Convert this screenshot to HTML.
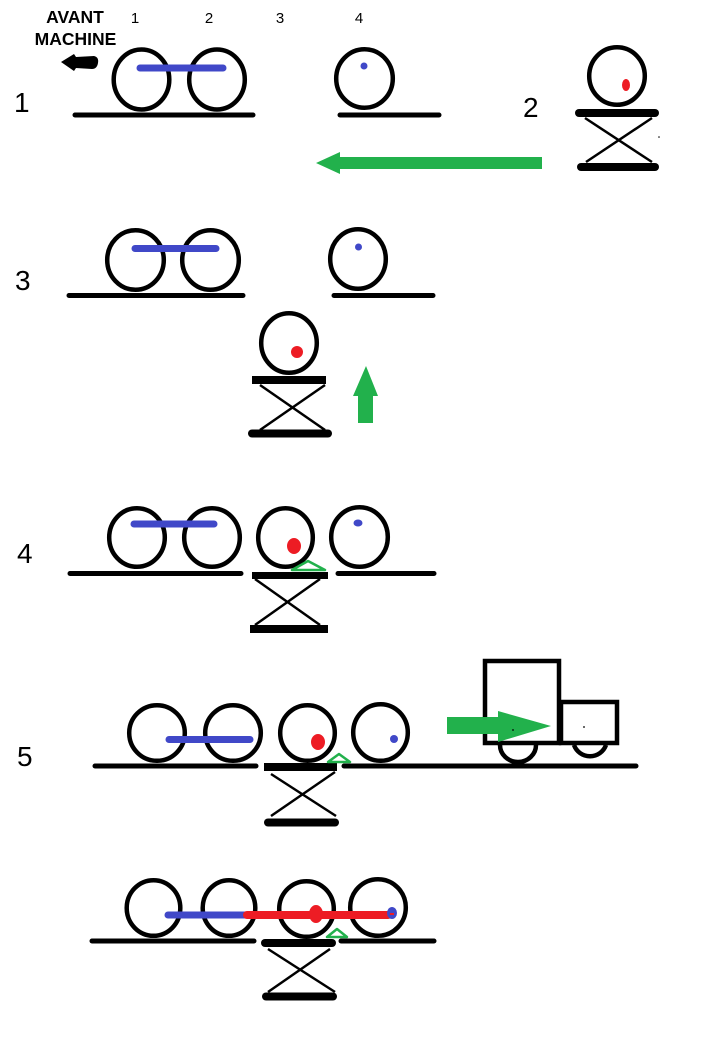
<!DOCTYPE html>
<html><head><meta charset="utf-8"><style>
html,body{margin:0;padding:0;background:#fff;}
svg{display:block;}
text{font-family:"Liberation Sans",sans-serif;fill:#000;}
</style></head><body>
<svg width="706" height="1046" viewBox="0 0 706 1046" xmlns="http://www.w3.org/2000/svg">
<rect width="706" height="1046" fill="#fff"/>
<!-- header -->
<text x="75" y="23" font-size="17.5" font-weight="bold" text-anchor="middle">AVANT</text>
<text x="75.5" y="45" font-size="17.5" font-weight="bold" text-anchor="middle">MACHINE</text>
<text x="135" y="23" font-size="15" text-anchor="middle">1</text>
<text x="209" y="23" font-size="15" text-anchor="middle">2</text>
<text x="280" y="23" font-size="15" text-anchor="middle">3</text>
<text x="359" y="23" font-size="15" text-anchor="middle">4</text>
<path d="M61,62 L74,54 L76,57 L94,56 Q99,57 98,63 Q97,69 92,69 L76,68 L74,71 Z" fill="#000"/>

<g fill="none" stroke="#000" stroke-width="4.5">
<!-- panel 1 -->
<ellipse cx="141.5" cy="79.5" rx="27.8" ry="30"/>
<ellipse cx="217" cy="79.5" rx="27.8" ry="30"/>
<ellipse cx="364.5" cy="78.5" rx="28.3" ry="29.3"/>
<ellipse cx="617" cy="76" rx="27.8" ry="28.8"/>
<!-- panel 3 -->
<ellipse cx="135.5" cy="260" rx="28.3" ry="29.8"/>
<ellipse cx="210.5" cy="260" rx="28.3" ry="29.8"/>
<ellipse cx="358" cy="259" rx="27.8" ry="29.8"/>
<ellipse cx="289" cy="343" rx="27.8" ry="29.8"/>
<!-- panel 4 -->
<ellipse cx="137" cy="537.5" rx="27.8" ry="29.3"/>
<ellipse cx="212" cy="537.5" rx="27.8" ry="29.3"/>
<ellipse cx="285.5" cy="537.5" rx="27.3" ry="29.3"/>
<ellipse cx="359.5" cy="537" rx="28.3" ry="29.8"/>
<!-- panel 5 -->
<ellipse cx="157" cy="733" rx="27.8" ry="27.8"/>
<ellipse cx="233" cy="733" rx="27.8" ry="27.8"/>
<ellipse cx="307.5" cy="733" rx="27.3" ry="27.8"/>
<ellipse cx="380.5" cy="732.5" rx="27.3" ry="28.3"/>
<!-- panel 6 -->
<ellipse cx="153.5" cy="908" rx="26.8" ry="27.8"/>
<ellipse cx="229" cy="908" rx="26.3" ry="27.8"/>
<ellipse cx="306.5" cy="909" rx="27.3" ry="27.8"/>
<ellipse cx="378" cy="907.5" rx="27.8" ry="28.3"/>
<!-- truck -->
<rect x="485" y="661" width="74" height="82"/>
<rect x="561" y="702" width="56" height="41"/>
<path d="M500,745 A18,17 0 0 0 536,745"/>
<path d="M574,745 A17,17 0 0 0 606,745"/>
</g>

<!-- ground lines -->
<g stroke="#000" stroke-width="5" stroke-linecap="round">
<line x1="75" y1="115" x2="253" y2="115"/>
<line x1="340" y1="115" x2="439" y2="115"/>
<line x1="69" y1="295.5" x2="243" y2="295.5"/>
<line x1="334" y1="295.5" x2="433" y2="295.5"/>
<line x1="70" y1="573.5" x2="241" y2="573.5"/>
<line x1="338" y1="573.5" x2="434" y2="573.5"/>
<line x1="95" y1="766" x2="256" y2="766"/>
<line x1="344" y1="766" x2="636" y2="766"/>
<line x1="92" y1="941" x2="254" y2="941"/>
<line x1="341" y1="941" x2="434" y2="941"/>
</g>

<!-- lifts: platforms -->
<g stroke="#000" stroke-width="8" stroke-linecap="round">
<line x1="579" y1="113" x2="655" y2="113"/>
<line x1="581" y1="167" x2="655" y2="167"/>
<line x1="252" y1="433.5" x2="328" y2="433.5"/>
<line x1="268" y1="822.5" x2="335" y2="822.5"/>
<line x1="266" y1="996.5" x2="333" y2="996.5"/>
<line x1="265" y1="943" x2="332" y2="943"/>
</g>
<g fill="#000">
<rect x="252" y="376" width="74" height="8"/>
<rect x="252" y="572" width="76" height="7"/>
<rect x="250" y="625" width="78" height="8"/>
<rect x="264" y="763" width="73" height="8"/>
</g>
<!-- scissors -->
<g stroke="#000" stroke-width="2.5">
<line x1="585" y1="118" x2="652" y2="162"/><line x1="652" y1="118" x2="586" y2="162"/>
<line x1="260" y1="385" x2="325" y2="430"/><line x1="325" y1="385" x2="260" y2="430"/>
<line x1="255" y1="579" x2="320" y2="625"/><line x1="320" y1="579" x2="255" y2="625"/>
<line x1="271" y1="774" x2="336" y2="816"/><line x1="335" y1="772" x2="271" y2="816"/>
<line x1="268" y1="949" x2="335" y2="992"/><line x1="330" y1="949" x2="268" y2="992"/>
</g>
<circle cx="659" cy="137" r="0.8" fill="#000"/>

<!-- blue bars -->
<g stroke="#4048c8" stroke-width="7" stroke-linecap="round">
<line x1="140" y1="68" x2="223" y2="68"/>
<line x1="135" y1="248.5" x2="216" y2="248.5"/>
<line x1="134" y1="524" x2="214" y2="524"/>
<line x1="169" y1="739.5" x2="250" y2="739.5"/>
<line x1="168" y1="915" x2="247" y2="915"/>
</g>
<line x1="247" y1="915" x2="388" y2="915" stroke="#ed1c24" stroke-width="8" stroke-linecap="round"/>

<!-- dots -->
<g fill="#4048c8">
<circle cx="364" cy="66" r="3.5"/>
<circle cx="358.5" cy="247" r="3.5"/>
<ellipse cx="358" cy="523" rx="4.5" ry="3.5"/>
<circle cx="394" cy="739" r="4"/>
<ellipse cx="392" cy="913" rx="5" ry="6"/>
</g>
<g fill="#ed1c24">
<ellipse cx="626" cy="85" rx="4" ry="6"/>
<circle cx="297" cy="352" r="6"/>
<ellipse cx="294" cy="546" rx="7" ry="8"/>
<ellipse cx="318" cy="742" rx="7" ry="8"/>
<ellipse cx="316" cy="914" rx="7" ry="9"/>
<rect x="390" y="913" width="4" height="2"/>
</g>

<!-- green triangles -->
<g fill="none" stroke="#22b14c" stroke-width="2.5" stroke-linejoin="round">
<polygon points="292,570 308,561 325,570"/>
<polygon points="328,762 339,754 350,762"/>
<polygon points="327,937 337,929 347,937"/>
</g>

<!-- green arrows -->
<g fill="#22b14c">
<polygon points="316,163 340,152 340,157 542,157 542,169 340,169 340,174"/>
<polygon points="366,366 378,396 373,396 373,423 358,423 358,396 353,396"/>
<polygon points="447,717 498,717 498,711 551,726 498,742 498,734 447,734"/>
</g>
<circle cx="513" cy="730" r="0.9" fill="#000"/>
<circle cx="584" cy="727" r="0.9" fill="#000"/>

<!-- panel labels -->
<text x="14" y="112" font-size="28">1</text>
<text x="523" y="117" font-size="28">2</text>
<text x="15" y="290" font-size="28">3</text>
<text x="17" y="563" font-size="28">4</text>
<text x="17" y="766" font-size="28">5</text>
</svg>
</body></html>
